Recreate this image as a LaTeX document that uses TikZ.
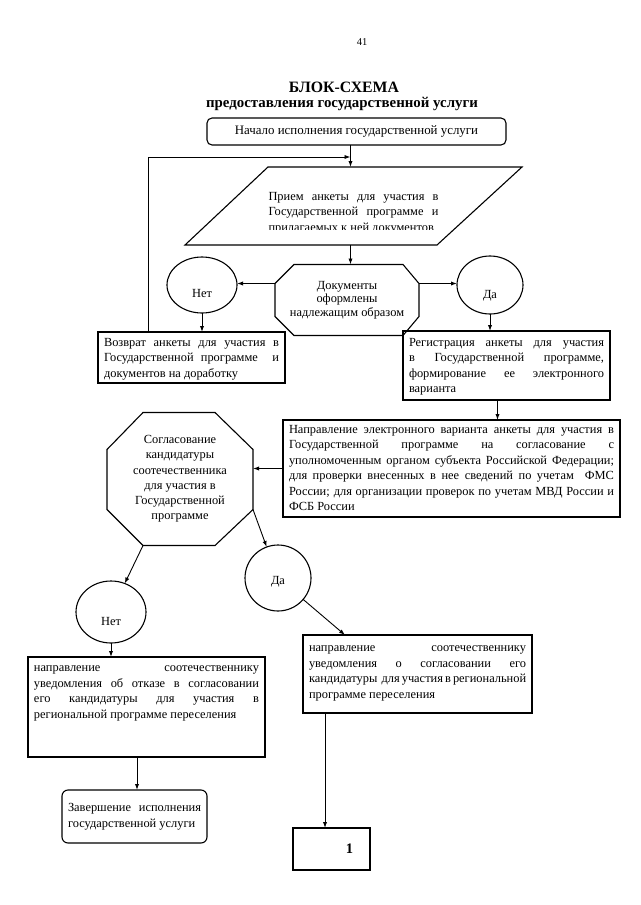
\documentclass[tikz,border=0pt]{standalone}
\usepackage{fontspec}
\setmainfont{Liberation Serif}
\usetikzlibrary{arrows.meta,calc,shapes.geometric}
\newcommand{\bodyf}{\fontsize{12.4}{15.5}\selectfont}
\newcommand{\jl}[1]{\makebox[\linewidth][s]{#1}}
\newcommand{\tbox}[4]{\parbox[c][#2][t]{#1}{\vspace*{#3}\bodyf #4}}
\tikzset{
  every node/.style={inner sep=0pt, outer sep=0pt},
  boxn/.style={draw, line width=1.1pt, rectangle, inner xsep=6pt, inner ysep=5pt, anchor=north west},
  arr/.style={line width=0.9pt, -{Latex[length=6pt,width=4.2pt]}},
  shp/.style={line width=1.1pt},
  oval/.style={draw, ellipse, line width=1.1pt, inner sep=0pt, font=\bodyf},
}
\begin{document}
\begin{tikzpicture}[x=1pt,y=-1pt]
\fill[white] (0,0) rectangle (640,905);
\useasboundingbox (0,0) rectangle (640,905);

% page number and title
\node[font=\fontsize{10.5}{12}\selectfont] (pg) at (362,42) {41};
\node[font=\fontsize{15.8}{18}\selectfont\bfseries] (title) at (344,87) {БЛОК-СХЕМА};
\node[font=\fontsize{14.9}{17}\selectfont\bfseries] (subtitle) at (342,104) {предоставления государственной услуги};

% start
\node[boxn, rounded corners=5pt, minimum width=299pt, minimum height=27pt, font=\fontsize{12.9}{15}\selectfont] (start) at (207,118) {Начало исполнения государственной услуги};

% parallelogram
\begin{scope}
\clip (0,0) rectangle (640,229);
\node[minimum width=337pt, minimum height=78pt] (para) at (353.5,206)
  {\parbox[c][78pt][t]{170pt}{\vspace*{25pt}\bodyf\jl{Прием анкеты для участия в}\\\jl{Государственной программе и}\\прилагаемых к ней документов}};
\end{scope}
\draw[shp] ($(para.north west)+(83,0)$) -- (para.north east) -- ($(para.south east)+(-85,0)$) -- (para.south west) -- cycle;
\coordinate (pv) at ($(para.north)+(-3,0)$);
\coordinate (pb) at ($(para.south)+(-3,0)$);

% decision 1
\node[minimum width=144pt, minimum height=71pt, align=center, font=\fontsize{12.4}{13.5}\selectfont] (oct1) at (347,300) {Документы\\оформлены\\надлежащим образом};
\draw[shp] ($(oct1.north west)+(19,0)$) -- ($(oct1.north east)+(-16,0)$) -- ($(oct1.north east)+(0,19)$) -- ($(oct1.south east)+(0,-19)$) -- ($(oct1.south east)+(-16,0)$) -- ($(oct1.south west)+(19,0)$) -- ($(oct1.south west)+(0,-19)$) -- ($(oct1.north west)+(0,19)$) -- cycle;

\node[oval, minimum width=70pt, minimum height=56pt] (net1) at (202,285) {\raisebox{-12pt}[0pt][0pt]{Нет}};
\node[oval, minimum width=66pt, minimum height=58pt] (da1) at (490,285) {\raisebox{-13pt}[0pt][0pt]{Да}};

\node[boxn] (vozvrat) at (98,332) {\tbox{175pt}{41pt}{1pt}{\jl{Возврат анкеты для участия в}\\\jl{Государственной программе \ и}\\документов на доработку}};

\node[boxn] (reg) at (403,331) {\tbox{195pt}{59pt}{2pt}{\jl{Регистрация анкеты для участия}\\\jl{в Государственной программе,}\\\jl{формирование ее электронного}\\варианта}};

\node[boxn] (nap) at (283,420) {\tbox{325pt}{87pt}{0pt}{\jl{Направление электронного варианта анкеты для участия в}\\\jl{Государственной программе на согласование с}\\\jl{уполномоченным органом субъекта Российской Федерации;}\\\jl{для проверки внесенных в нее сведений по учетам \ ФМС}\\\jl{России; для организации проверок по учетам МВД России и}\\ФСБ России}};

% decision 2
\node[minimum width=146pt, minimum height=133pt, align=center, font=\fontsize{12.4}{15.2}\selectfont] (oct2) at (180,479) {Согласование\\кандидатуры\\соотечественника\\для участия в\\Государственной\\программе};
\draw[shp] ($(oct2.north west)+(36,0)$) -- ($(oct2.north east)+(-38,0)$) -- ($(oct2.north east)+(0,37)$) -- ($(oct2.south east)+(0,-36)$) -- ($(oct2.south east)+(-38,0)$) -- ($(oct2.south west)+(36,0)$) -- ($(oct2.south west)+(0,-36)$) -- ($(oct2.north west)+(0,37)$) -- cycle;

\node[oval, minimum width=70pt, minimum height=62pt] (net2) at (111,612) {\raisebox{-13pt}[0pt][0pt]{Нет}};
\node[oval, minimum width=66pt, minimum height=66pt] (da2) at (278,578) {\raisebox{-6pt}[0pt][0pt]{Да}};

\node[boxn] (lbox) at (28,657) {\tbox{225pt}{90pt}{4pt}{\jl{направление соотечественнику}\\\jl{уведомления об отказе в согласовании}\\\jl{его кандидатуры для участия в}\\региональной программе переселения}};

\node[boxn] (rbox) at (303,635) {\tbox{217pt}{68pt}{6pt}{\jl{направление соотечественнику}\\\jl{уведомления о согласовании его}\\\jl{кандидатуры \ для участия в региональной}\\программе переселения}};

\node[boxn, rounded corners=6pt] (endb) at (62,790) {\parbox[c][43pt][c]{133pt}{\bodyf\jl{Завершение исполнения}\\государственной услуги}};

\node[boxn] (one) at (293,828) {\parbox[c][32pt][c]{65pt}{\hfill\fontsize{14.5}{14}\selectfont\bfseries 1\hspace*{11pt}}};

% connectors
\coordinate (fb) at (148,157);
\draw[arr] (start.south -| pv) -- (pv);
\draw[arr] (vozvrat.north -| fb) -- (fb) -- (fb -| pv);
\draw[arr] (pb) -- (pb |- oct1.north);
\coordinate (o1l) at ($(oct1.north west)+(0,19)$);
\coordinate (o1r) at ($(oct1.north east)+(0,19)$);
\draw[arr] (o1l) -- (o1l -| net1.east);
\draw[arr] (o1r) -- (o1r -| da1.west);
\draw[arr] (net1.south) -- (net1.south |- vozvrat.north);
\draw[arr] (da1.south) -- (da1.south |- reg.north);
\coordinate (rs) at ($(reg.south)+(-9,0)$);
\draw[arr] (rs) -- (rs |- nap.north);
\draw[arr] (nap.west) -- (nap.west -| oct2.east);
\coordinate (o2bl) at ($(oct2.south west)+(36,0)$);
\coordinate (o2r) at ($(oct2.south east)+(0,-36)$);
\draw[arr] (o2bl) -- (net2);
\draw[arr] (o2r) -- (da2);
\coordinate (rt) at ($(rbox.north west)+(42,0)$);
\draw[arr] (da2) -- (rt);
\draw[arr] (net2.south) -- (net2.south |- lbox.north);
\coordinate (lb) at ($(lbox.south west)+(109,0)$);
\draw[arr] (lb) -- (lb |- endb.north);
\coordinate (rb) at ($(rbox.south west)+(22,0)$);
\draw[arr] (rb) -- (rb |- one.north);
\end{tikzpicture}
\end{document}
